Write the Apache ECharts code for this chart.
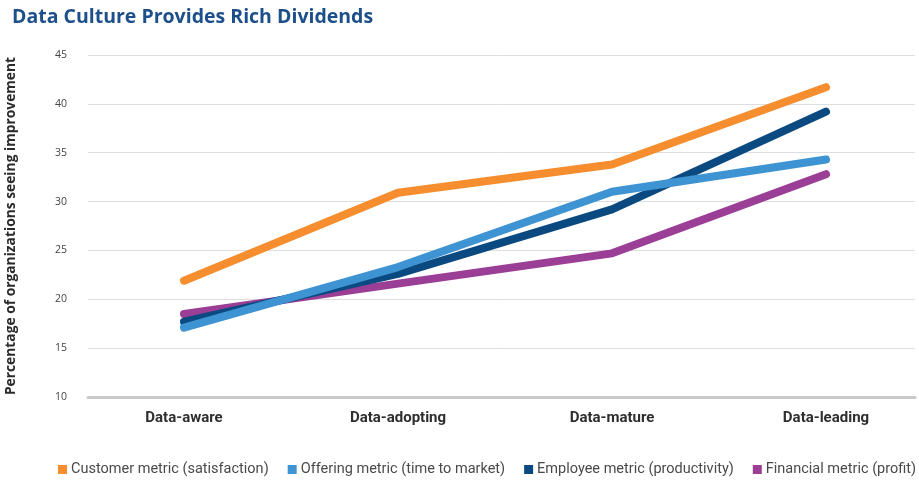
<!DOCTYPE html>
<html>
<head>
<meta charset="utf-8">
<script src="https://cdn.jsdelivr.net/npm/echarts@6/dist/echarts.min.js"></script>
<style>
  html, body { margin: 0; padding: 0; background: #ffffff; }
  #chart { width: 919px; height: 482px; }
</style>
</head>
<body>
<div id="chart"></div>
<script>
// Maturity stages along the x axis
const stages = ['Data-aware', 'Data-adopting', 'Data-mature', 'Data-leading'];

// Share of organizations seeing improvement, per metric
const customerMetric = [21.9, 30.9, 33.8, 41.7];
const offeringMetric = [17.1, 23.3, 31.0, 34.3];
const employeeMetric = [17.7, 22.6, 29.2, 39.2];
const financialMetric = [18.5, 21.6, 24.7, 32.8];

const seriesNames = [
  'Customer metric (satisfaction)',
  'Offering metric (time to market)',
  'Employee metric (productivity)',
  'Financial metric (profit)'
];
const seriesColors = ['#f68d2e', '#3e93d3', '#0b4a80', '#9b3e96'];
const seriesData = [customerMetric, offeringMetric, employeeMetric, financialMetric];

const yMin = 10, yMax = 45, yStep = 5;

const chart = echarts.init(document.getElementById('chart'), null, { renderer: 'canvas' });

chart.setOption({
  backgroundColor: '#ffffff',
  animation: false,
  title: {
    text: 'Data Culture Provides Rich Dividends',
    left: 7,
    top: 2,
    textStyle: {
      fontFamily: 'Open Sans',
      fontWeight: 'bold',
      fontSize: 19.5,
      color: '#1d4f8a'
    }
  },
  legend: {
    left: 58,
    top: 462,
    width: 890,
    padding: 0,
    itemWidth: 9,
    itemHeight: 9,
    itemGap: 19,
    icon: 'rect',
    data: seriesNames,
    textStyle: {
      fontFamily: 'Roboto',
      fontSize: 14.5,
      color: '#4a4a4a',
      padding: [0, 0, 0, -1]
    }
  },
  grid: [
    // frame: value gridlines and baseline
    { left: 88, width: 827, top: 55, bottom: 85, outerBoundsMode: 'none' },
    // plotting area for the lines, bands centred on each stage
    { left: 77, width: 856, top: 55, bottom: 85, outerBoundsMode: 'none' }
  ],
  xAxis: [
    {
      gridIndex: 0,
      type: 'value',
      min: 0,
      max: 1,
      axisLine: { show: true, lineStyle: { color: '#c9c9c9', width: 3 } },
      axisTick: { show: false },
      axisLabel: { show: false },
      splitLine: { show: false }
    },
    {
      gridIndex: 1,
      type: 'category',
      data: stages,
      boundaryGap: true,
      axisLine: { show: false },
      axisTick: { show: false },
      splitLine: { show: false },
      axisLabel: {
        margin: 14,
        fontFamily: 'Roboto',
        fontWeight: 'bold',
        fontSize: 15,
        color: '#2e2e2e'
      }
    }
  ],
  yAxis: [
    {
      gridIndex: 0,
      type: 'value',
      min: yMin,
      max: yMax,
      interval: yStep,
      name: 'Percentage of organizations seeing improvement',
      nameLocation: 'middle',
      nameGap: 70,
      nameTextStyle: {
        fontFamily: 'Open Sans',
        fontWeight: 'bold',
        fontSize: 13.8,
        color: '#2b2b2b'
      },
      axisLine: { show: false },
      axisTick: { show: false },
      axisLabel: {
        margin: 21,
        fontFamily: 'Open Sans',
        fontSize: 10.5,
        color: '#444444'
      },
      splitLine: { show: true, lineStyle: { color: '#dedede', width: 1 } }
    },
    {
      gridIndex: 1,
      type: 'value',
      min: yMin,
      max: yMax,
      interval: yStep,
      show: false,
      splitLine: { show: false }
    }
  ],
  series: seriesNames.map((name, i) => ({
    name: name,
    type: 'line',
    xAxisIndex: 1,
    yAxisIndex: 1,
    data: seriesData[i],
    symbol: 'none',
    color: seriesColors[i],
    lineStyle: { width: 8, color: seriesColors[i], cap: 'round', join: 'round' },
    z: 10 - i
  }))
});
</script>
</body>
</html>
